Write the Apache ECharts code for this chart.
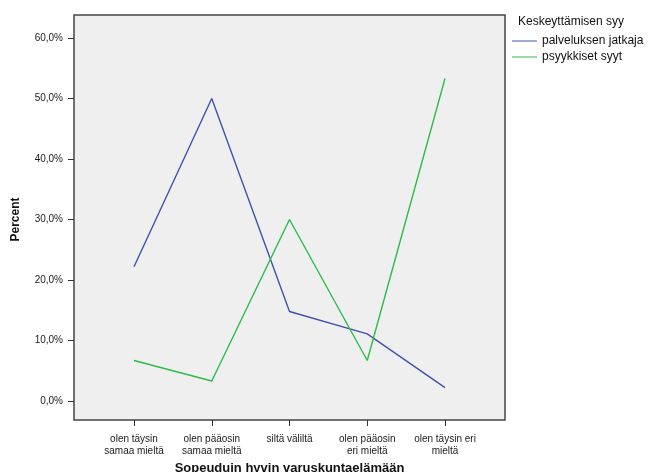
<!DOCTYPE html>
<html><head><meta charset="utf-8">
<script src="https://cdn.jsdelivr.net/npm/echarts@6/dist/echarts.min.js"></script>
<style>html,body{margin:0;padding:0;background:#fff}#c{width:664px;height:472px}</style>
</head><body><div id="c"></div>
<script>
const categories = ['olen täysin\nsamaa mieltä','olen pääosin\nsamaa mieltä','siltä väliltä','olen pääosin\neri mieltä','olen täysin eri\nmieltä'];
const palveluksenJatkaja = [22.2, 50.0, 14.8, 11.1, 2.2];
const psyykkisetSyyt = [6.7, 3.3, 30.0, 6.7, 53.3];
const yTicks = [0,10,20,30,40,50,60];
const FONT = '"Liberation Sans", Arial, sans-serif';
const chart = echarts.init(document.getElementById('c'), null, {renderer:'canvas'});
chart.setOption({
  animation:false,
  textStyle:{fontFamily:FONT},
  title:{text:'Keskeyttämisen syy', left:518, top:13, padding:[3,0,3,0], textStyle:{fontSize:12, fontWeight:'normal', color:'#111', fontFamily:FONT}},
  legend:{orient:'vertical', left:512, top:35, itemGap:4, itemWidth:25, itemHeight:1, icon:'rect',
    textStyle:{fontSize:12, color:'#111', fontFamily:FONT}, padding:0},
  grid:[
    {left:74, right:159, top:15, bottom:52, show:true, backgroundColor:'#efefef', borderColor:'#444', borderWidth:1.5, containLabel:false, outerBoundsMode:'none'},
    {left:134, right:219, top:38, bottom:71, containLabel:false, outerBoundsMode:'none'}
  ],
  xAxis:[
    {gridIndex:0, type:'value', show:false},
    {gridIndex:1, type:'category', data:categories, boundaryGap:false, offset:19,
     axisLine:{show:false, onZero:false}, axisTick:{show:true, length:6, lineStyle:{color:'#333'}},
     axisLabel:{fontSize:10, color:'#1a1a1a', margin:13, lineHeight:12, interval:0, fontFamily:FONT},
     name:'Sopeuduin hyvin varuskuntaelämään', nameLocation:'middle', nameGap:40,
     nameTextStyle:{fontSize:13, fontWeight:'bold', color:'#111', fontFamily:FONT}}
  ],
  yAxis:[
    {gridIndex:0, type:'value', show:false},
    {gridIndex:1, type:'value', min:yTicks[0], max:yTicks[yTicks.length-1], interval:10, offset:60,
     axisLine:{show:false, onZero:false}, axisTick:{show:true, length:6, lineStyle:{color:'#333'}}, splitLine:{show:false},
     axisLabel:{fontSize:10, color:'#1a1a1a', margin:11, fontFamily:FONT, formatter:v=>v.toFixed(1).replace('.',',')+'%'},
     name:'Percent', nameLocation:'middle', nameGap:52,
     nameTextStyle:{fontSize:12, fontWeight:'bold', color:'#111', fontFamily:FONT}}
  ],
  series:[
    {name:'palveluksen jatkaja', type:'line', xAxisIndex:1, yAxisIndex:1, data:palveluksenJatkaja,
     showSymbol:false, symbol:'none', lineStyle:{color:'#3e54ac', width:1.4}, itemStyle:{color:'#3e54ac'}},
    {name:'psyykkiset syyt', type:'line', xAxisIndex:1, yAxisIndex:1, data:psyykkisetSyyt,
     showSymbol:false, symbol:'none', lineStyle:{color:'#2ebb48', width:1.4}, itemStyle:{color:'#2ebb48'}}
  ]
});
</script></body></html>
